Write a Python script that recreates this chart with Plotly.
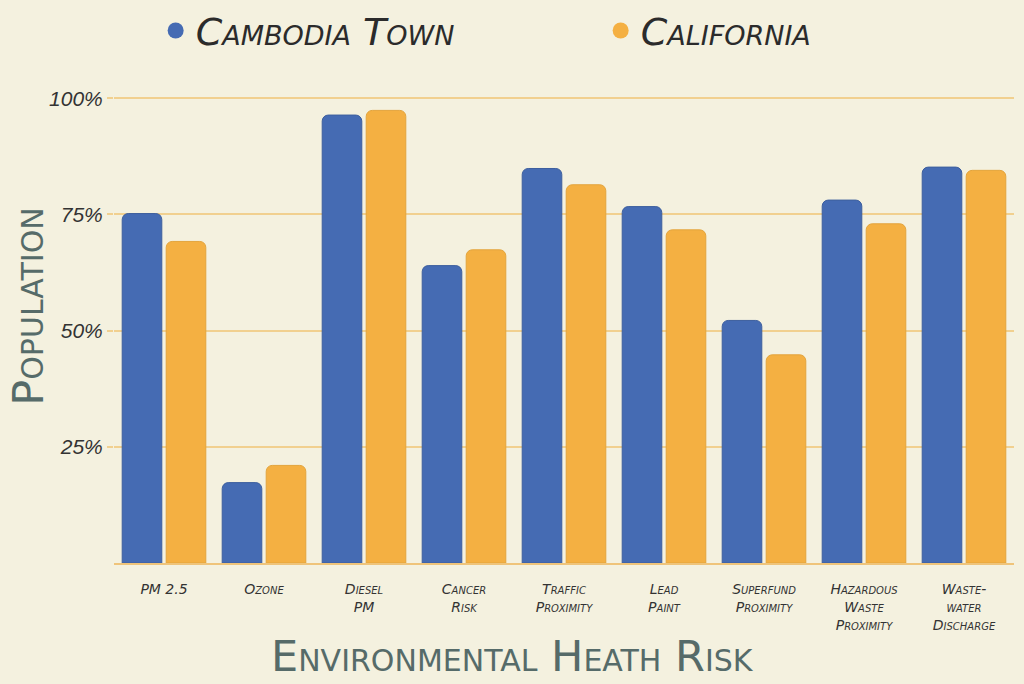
import plotly.graph_objects as go

categories = ["PM 2.5", "Ozone", "Diesel<br>PM", "Cancer<br>Risk", "Traffic<br>Proximity",
              "Lead<br>Paint", "Superfund<br>Proximity", "Hazardous<br>Waste<br>Proximity",
              "Waste-<br>water<br>Discharge"]
cambodia_town = [75.2, 17.3, 96.4, 64.0, 84.9, 76.7, 52.2, 78.1, 85.2]
california = [69.2, 21.0, 97.4, 67.4, 81.4, 71.7, 44.8, 73.0, 84.5]
y_ticks = [25, 50, 75, 100]
y_tick_text = ["25%", "50%", "75%", "100%"]

blue = "#456bb3"
orange = "#f4b042"
bg = "#f4f1df"
grid = "#f1d08f"
slate = "#566b69"
title_font = dict(family="DejaVu Sans", size=43, color=slate, variant="small-caps")

fig = go.Figure()
fig.add_trace(go.Bar(x=categories, y=cambodia_town, name="Cambodia Town",
                     marker=dict(color=blue, line=dict(color="#3d5f9e", width=1)),
                     showlegend=False))
fig.add_trace(go.Bar(x=categories, y=california, name="California",
                     marker=dict(color=orange, line=dict(color="#e3a43c", width=1)),
                     showlegend=False))

# legend entries with round markers
fig.add_trace(go.Scatter(x=[None], y=[None], mode="markers", name="Cambodia Town",
                         marker=dict(color=blue, size=26, symbol="circle")))
fig.add_trace(go.Scatter(x=[None], y=[None], mode="markers", name="California",
                         marker=dict(color=orange, size=26, symbol="circle")))

fig.update_layout(
    width=1024, height=684,
    paper_bgcolor=bg, plot_bgcolor=bg,
    margin=dict(l=114, r=10, t=96, b=121, autoexpand=False),
    barmode="group", bargap=0.12, bargroupgap=0.1, barcornerradius=6,
    legend=dict(orientation="h", xref="container", yref="container",
                x=0.152, xanchor="left", y=0.955, yanchor="middle",
                entrywidth=400, entrywidthmode="pixels",
                font=dict(family="DejaVu Sans", size=38, color="#2b2b2b",
                          style="italic", variant="small-caps"),
                itemsizing="trace", bgcolor="rgba(0,0,0,0)"),
    xaxis=dict(
        tickfont=dict(family="DejaVu Sans", size=14, color="#333333",
                      style="italic", variant="small-caps"),
        ticklabelstandoff=12,
        showline=True, linecolor="#efc47a", linewidth=2,
        showgrid=False, ticks="",
    ),
    yaxis=dict(
        range=[0, 100.5], tickvals=y_ticks, ticktext=y_tick_text,
        tickfont=dict(family="Liberation Sans", size=21, color="#333333", style="italic"),
        showgrid=True, gridcolor=grid, gridwidth=2,
        ticks="outside", ticklen=6, tickcolor=grid, tickwidth=2,
        zeroline=False, showline=False,
    ),
    annotations=[
        dict(text="Environmental Heath Risk", xref="paper", yref="paper",
             x=0.443, y=-0.2, xanchor="center", yanchor="middle",
             showarrow=False, font=title_font),
        dict(text="Population", xref="paper", yref="paper", textangle=-90,
             x=-0.096, y=0.548, xanchor="center", yanchor="middle",
             showarrow=False, font=title_font),
    ],
)

fig.write_html("out.html", config={"displayModeBar": False},
               post_script="document.body.style.margin='0';document.body.style.background='#f4f1df';")
